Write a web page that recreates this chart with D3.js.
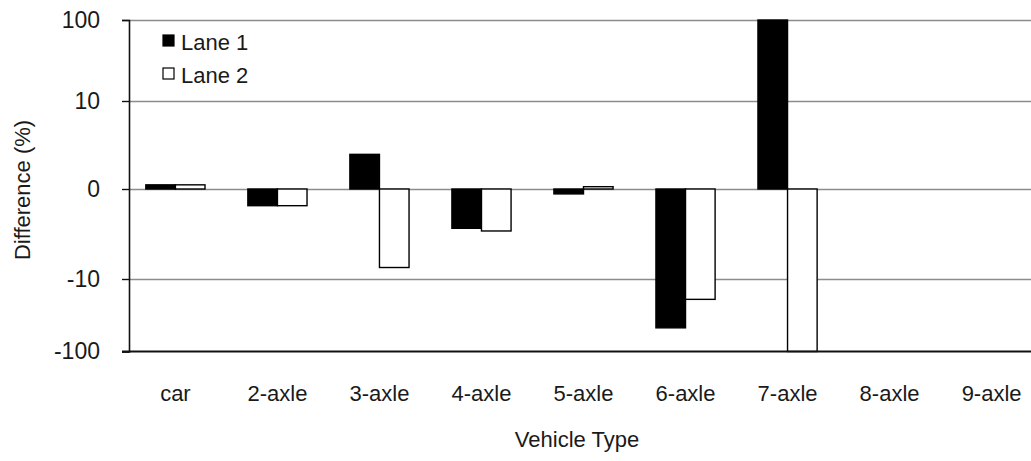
<!DOCTYPE html>
<html>
<head>
<meta charset="utf-8">
<script src="https://cdn.jsdelivr.net/npm/d3@7"></script>
<style>
  body { margin: 0; background: #fff; }
  text { font-family: "Liberation Sans", Arial, sans-serif; fill: #1a1a1a; }
</style>
</head>
<body>
<div id="chart"></div>
<script>
var categories = ["car", "2-axle", "3-axle", "4-axle", "5-axle", "6-axle", "7-axle", "8-axle", "9-axle"];
var lane1 = [0.12, -0.56, 1.57, -1.85, -0.14, -48, 100, null, null];
var lane2 = [0.12, -0.56, -7.1, -2.06, 0.065, -19.5, -100, null, null];
var series = ["Lane 1", "Lane 2"];
var yTicks = [-100, -10, 0, 10, 100];

var width = 1031, height = 461;
var plotLeft = 129, plotRight = 1038, plotTop = 20, plotBottom = 351.5;

var svg = d3.select('#chart').append('svg')
    .attr('width', width)
    .attr('height', height);

var x0 = d3.scaleBand()
    .domain(categories)
    .range([plotLeft, plotRight])
    .paddingInner(0.42)
    .paddingOuter(0.165);

var x1 = d3.scaleBand()
    .domain(series)
    .range([0, x0.bandwidth()])
    .padding(0);

// log-like axis, ticks are not evenly spaced in the original
var y = d3.scaleSymlog()
    .domain(yTicks)
    .range([plotBottom, 279, 189, 101, plotTop]);

// gridlines
svg.append('g')
  .selectAll('line')
  .data(yTicks.filter(d => d != -100))
  .join('line')
    .attr('x1', plotLeft)
    .attr('x2', width)
    .attr('y1', d => Math.round(y(d)) + 0.5)
    .attr('y2', d => Math.round(y(d)) + 0.5)
    .style('stroke', '#8c8c8c')
    .style('stroke-width', 1.3);

var data = categories.map((c, i) => ({ cat: c, vals: [lane1[i], lane2[i]] }));

var groups = svg.append('g')
  .selectAll('g')
  .data(data)
  .join('g')
    .attr('transform', d => `translate(${x0(d.cat)},0)`);

groups.selectAll('rect')
  .data(d => d.vals.map((v, j) => ({ key: series[j], v: v })).filter(e => e.v != null))
  .join('rect')
    .attr('x', d => x1(d.key))
    .attr('y', d => Math.min(y(d.v), y(0)))
    .attr('width', x1.bandwidth())
    .attr('height', d => Math.abs(y(d.v) - y(0)))
    .style('fill', d => d.key == 'Lane 1' ? '#000' : '#fff')
    .style('stroke', '#000')
    .style('stroke-width', 1.4);

// y axis
var yAxis = svg.append('g')
    .attr('transform', `translate(${plotLeft},0)`)
    .call(d3.axisLeft(y).tickValues(yTicks).tickSize(7).tickPadding(22).tickFormat(d => String(d)));
yAxis.select('.domain').style('stroke', '#111').style('stroke-width', 1.6);
yAxis.selectAll('.tick line').style('stroke', '#111').style('stroke-width', 1.4);
yAxis.selectAll('.tick text').style('font-size', '23px');

// x axis
var xAxis = svg.append('g')
    .attr('transform', `translate(0,${plotBottom})`)
    .call(d3.axisBottom(x0).tickSize(0).tickPadding(34));
xAxis.select('.domain').attr('d', `M${plotLeft - 7},0H${width}`).style('stroke', '#111').style('stroke-width', 1.8);
xAxis.selectAll('.tick text').style('font-size', '22px');

// axis titles
svg.append('text')
    .attr('x', 577)
    .attr('y', 447)
    .attr('text-anchor', 'middle')
    .style('font-size', '22px')
    .text('Vehicle Type');

svg.append('text')
    .attr('transform', 'translate(30,190) rotate(-90)')
    .attr('text-anchor', 'middle')
    .style('font-size', '22px')
    .text('Difference (%)');

// legend
var legend = svg.append('g')
    .attr('transform', 'translate(163,35)')
  .selectAll('g')
  .data(series)
  .join('g')
    .attr('transform', (d, i) => `translate(0,${i * 33})`);
legend.append('rect')
    .attr('width', 11)
    .attr('height', 11)
    .style('fill', d => d == 'Lane 1' ? '#000' : '#fff')
    .style('stroke', '#000')
    .style('stroke-width', 1.2);
legend.append('text')
    .attr('x', 18)
    .attr('y', 15)
    .style('font-size', '22px')
    .text(d => d);
</script>
</body>
</html>
